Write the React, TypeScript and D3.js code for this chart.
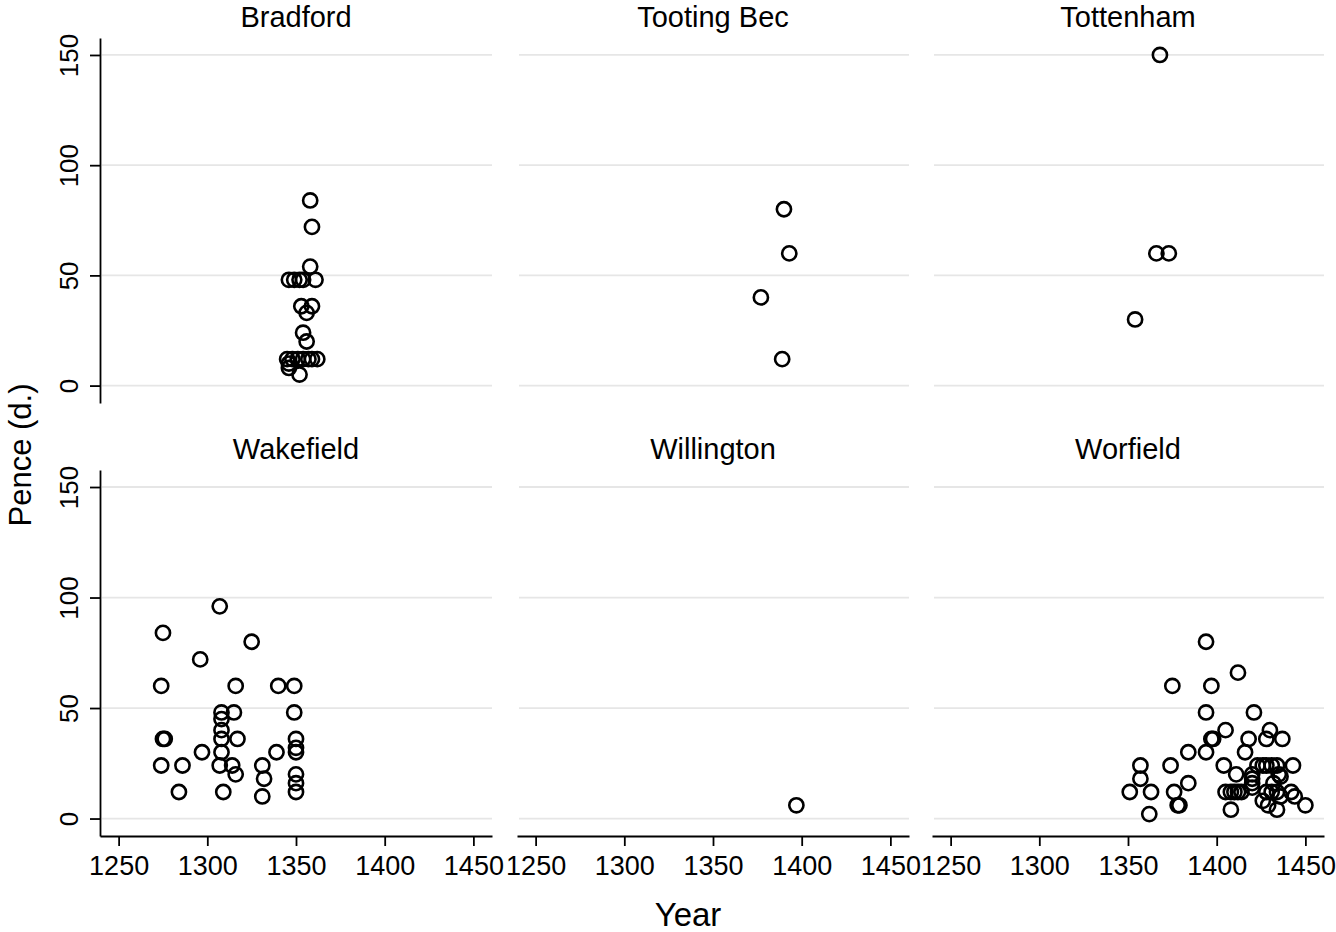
import React, { useEffect, useRef } from 'react';
import * as d3 from 'd3';

// --- data (year, pence) ---
const bradford: [number, number][] = [
  [1358, 84], [1359, 72], [1358, 54], [1346, 48], [1349, 48], [1352, 48], [1354, 48], [1361, 48],
  [1353, 36], [1359, 36], [1356, 33], [1354, 24], [1356, 20], [1345, 12], [1348, 12], [1351, 12],
  [1354, 12], [1357, 12], [1359, 12], [1362, 12], [1346, 10], [1346, 8], [1352, 5],
];
const tootingBec: [number, number][] = [[1390, 80], [1393, 60], [1377, 40], [1389, 12]];
const tottenham: [number, number][] = [[1368, 150], [1366, 60], [1373, 60], [1354, 30]];
const wakefield: [number, number][] = [
  [1307, 96], [1275, 84], [1325, 80], [1296, 72], [1274, 60], [1316, 60], [1340, 60], [1349, 60],
  [1308, 48], [1315, 48], [1349, 48], [1308, 45], [1308, 40], [1308, 36], [1308, 30], [1275, 36],
  [1276, 36], [1317, 36], [1350, 36], [1350, 32], [1350, 30], [1297, 30], [1339, 30], [1274, 24],
  [1286, 24], [1307, 24], [1314, 24], [1331, 24], [1316, 20], [1332, 18], [1350, 20], [1350, 16],
  [1350, 12], [1284, 12], [1309, 12], [1331, 10],
];
const willington: [number, number][] = [[1397, 6]];
const worfield: [number, number][] = [
  [1351, 12], [1357, 24], [1357, 18], [1362, 2], [1363, 12], [1374, 24], [1375, 60], [1376, 12],
  [1378, 6], [1379, 6], [1384, 16], [1384, 30], [1394, 48], [1394, 30], [1394, 80], [1397, 60],
  [1397, 36], [1398, 36], [1404, 24], [1405, 40], [1405, 12], [1408, 4], [1408, 12], [1410, 12],
  [1411, 20], [1412, 66], [1412, 12], [1414, 12], [1416, 30], [1418, 36], [1420, 20], [1420, 18],
  [1420, 16], [1420, 14], [1421, 48], [1423, 24], [1426, 24], [1426, 8], [1428, 36], [1428, 24],
  [1428, 12], [1429, 6], [1430, 40], [1431, 24], [1431, 12], [1432, 16], [1434, 24], [1434, 12],
  [1434, 4], [1435, 20], [1436, 19], [1436, 10], [1437, 36], [1442, 12], [1443, 24], [1444, 10],
  [1450, 6],
];

const panelNames = ['Bradford', 'Tooting Bec', 'Tottenham', 'Wakefield', 'Willington', 'Worfield'];
const panelData = [bradford, tootingBec, tottenham, wakefield, willington, worfield];
const yearTicks = [1250, 1300, 1350, 1400, 1450];
const penceTicks = [0, 50, 100, 150];

const FONT = '"Liberation Sans", Arial, Helvetica, sans-serif';

const App: React.FC = () => {
  const svgRef = useRef<SVGSVGElement | null>(null);

  useEffect(() => {
    if (!svgRef.current) return;
    const width = 1336;
    const height = 932;
    const svg = d3.select(svgRef.current);
    svg.selectAll('*').remove();
    svg.append('rect').attr('width', width).attr('height', height).attr('fill', '#fff');

    const colX = [100, 517, 932];
    const panelW = 392;
    const rowY = [
      { top: 38, bottom: 403 },
      { top: 470, bottom: 836 },
    ];

    panelData.forEach((pts, i) => {
      const col = i % 3;
      const row = Math.floor(i / 3);
      const x0 = colX[col];
      const { top, bottom } = rowY[row];

      const x = d3.scaleLinear().domain([1239.5, 1460.5]).range([x0, x0 + panelW]);
      const y = d3.scaleLinear().domain([-7.9, 157.7]).range([bottom, top]);

      const g = svg.append('g');

      // grid
      g.selectAll('.grid').data(penceTicks).enter().append('line')
        .attr('x1', x0 + 2).attr('x2', x0 + panelW)
        .attr('y1', d => y(d)).attr('y2', d => y(d))
        .attr('stroke', '#e6e6e6').attr('stroke-width', 1.8);

      // title
      g.append('text')
        .attr('x', x0 + panelW / 2).attr('y', top - 11)
        .attr('text-anchor', 'middle')
        .attr('font-family', FONT).attr('font-size', 29).attr('fill', '#000')
        .text(panelNames[i]);

      // y axis on left column
      if (col === 0) {
        const ya = g.append('g').attr('transform', `translate(${x0},0)`)
          .call(d3.axisLeft(y).tickValues(penceTicks).tickSize(10).tickSizeOuter(0));
        ya.select('.domain').attr('stroke', '#000').attr('stroke-width', 1.8);
        ya.selectAll('.tick line').attr('stroke', '#000').attr('stroke-width', 1.8);
        ya.selectAll('.tick text')
          .attr('transform', 'rotate(-90)')
          .attr('x', 0).attr('y', -22).attr('dy', 0)
          .attr('text-anchor', 'middle')
          .attr('font-family', FONT).attr('font-size', 26).attr('fill', '#000');
      }

      // x axis on bottom row
      if (row === 1) {
        const xa = g.append('g').attr('transform', `translate(0,${bottom})`)
          .call(d3.axisBottom(x).tickValues(yearTicks).tickFormat(d3.format('d')).tickSize(10).tickSizeOuter(0));
        xa.select('.domain').attr('stroke', '#000').attr('stroke-width', 1.8);
        xa.selectAll('.tick line').attr('stroke', '#000').attr('stroke-width', 1.8);
        xa.selectAll('.tick text')
          .attr('y', 20)
          .attr('font-family', FONT).attr('font-size', 27).attr('fill', '#000');
      }

      // points
      g.selectAll('.pt').data(pts).enter().append('circle')
        .attr('cx', d => x(d[0])).attr('cy', d => y(d[1]))
        .attr('r', 7.1)
        .attr('fill', 'none')
        .attr('stroke', '#000').attr('stroke-width', 2.6);
    });

    // overall axis titles
    svg.append('text')
      .attr('transform', `translate(31,455) rotate(-90)`)
      .attr('text-anchor', 'middle')
      .attr('font-family', FONT).attr('font-size', 31).attr('fill', '#000')
      .text('Pence (d.)');

    svg.append('text')
      .attr('x', 688).attr('y', 926)
      .attr('text-anchor', 'middle')
      .attr('font-family', FONT).attr('font-size', 33).attr('fill', '#000')
      .text('Year');
  }, []);

  return (
    <svg
      ref={svgRef}
      width={1336}
      height={932}
      style={{ position: 'absolute', left: 0, top: 0, display: 'block' }}
    />
  );
};

export default App;
